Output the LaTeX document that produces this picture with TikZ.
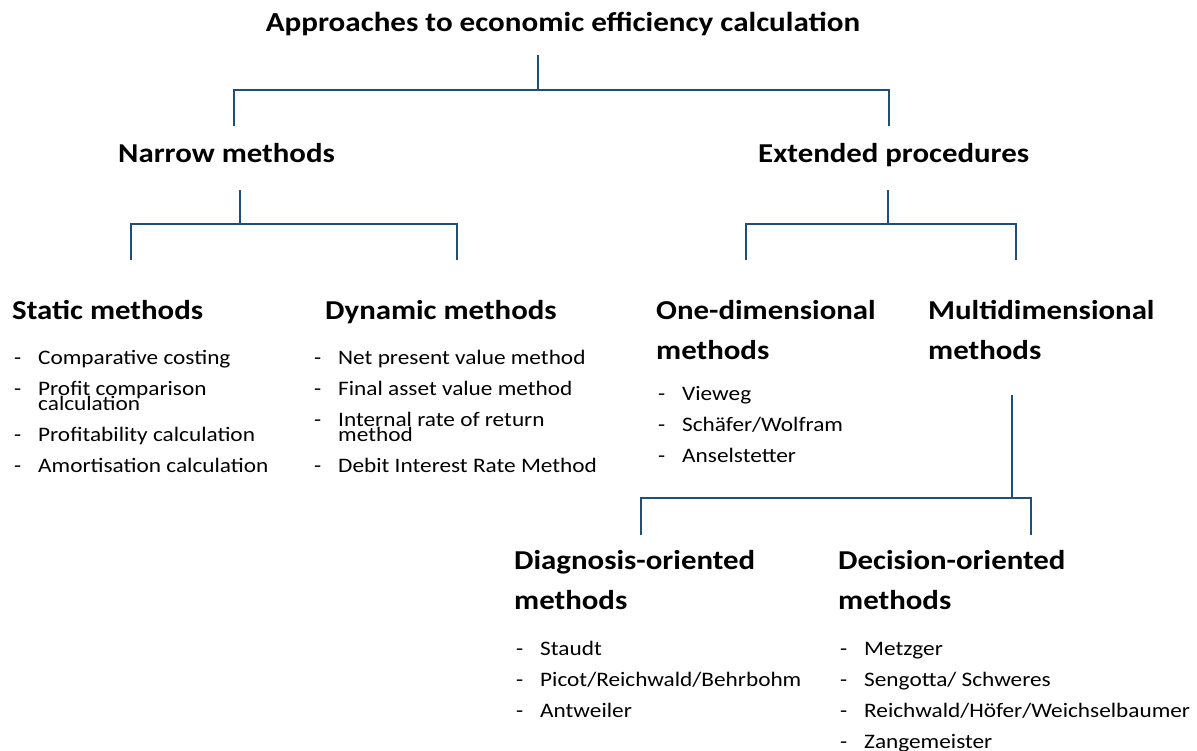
\documentclass[tikz,border=0pt]{standalone}
\usepackage{fontspec}
\setmainfont{Carlito}[FakeStretch=1.13]
\definecolor{linkblue}{RGB}{31,78,121}
\newcommand\bulletline[4]{%
  \node[item] (#1d) at (#2,#3) {-};
  \node[item] (#1) at (#2+24,#3) {#4};}
\begin{document}
\begin{tikzpicture}[x=1pt,y=-1pt,
  title/.style={font=\fontsize{27.5}{32}\selectfont\bfseries, inner sep=0, anchor=base},
  head/.style={font=\fontsize{27.3}{32}\selectfont\bfseries, inner sep=0, anchor=base west},
  item/.style={font=\fontsize{20.6}{24}\selectfont, inner sep=0, anchor=base west},
  link/.style={draw=linkblue, line width=1.8pt}]
\fill[white] (0,0) rectangle (1197,750);
\useasboundingbox (0,0) rectangle (1197,750);

% headings
\node[title] (root) at (563,31) {Approaches to economic efficiency calculation};
\node[head] (narrow) at (118,162) {Narrow methods};
\node[head] (ext) at (758,162) {Extended procedures};
\node[head] (static) at (12,319) {Static methods};
\node[head] (dyn) at (325,319) {Dynamic methods};
\node[head] (one) at (656,319) {One-dimensional};
\node[head] (oneb) at (656,359) {methods};
\node[head] (multi) at (928,319) {Multidimensional};
\node[head] (multib) at (928,359) {methods};
\node[head] (diag) at (514,569) {Diagnosis-oriented};
\node[head] (diagb) at (514,609) {methods};
\node[head] (dec) at (838,569) {Decision-oriented};
\node[head] (decb) at (838,609) {methods};

% static methods
\bulletline{s1}{14}{364}{Comparative costing}
\bulletline{s2}{14}{395}{Profit comparison}
\node[item] (s2b) at (38,410) {calculation};
\bulletline{s3}{14}{441}{Profitability calculation}
\bulletline{s4}{14}{472}{Amortisation calculation}

% dynamic methods
\bulletline{d1}{314}{364}{Net present value method}
\bulletline{d2}{314}{395}{Final asset value method}
\bulletline{d3}{314}{426}{Internal rate of return}
\node[item] (d3b) at (338,441) {method};
\bulletline{d4}{314}{472}{Debit Interest Rate Method}

% one-dimensional methods
\bulletline{o1}{658}{400}{Vieweg}
\bulletline{o2}{658}{431}{Schäfer/Wolfram}
\bulletline{o3}{658}{462}{Anselstetter}

% diagnosis-oriented methods
\bulletline{g1}{516}{655}{Staudt}
\bulletline{g2}{516}{686}{Picot/Reichwald/Behrbohm}
\bulletline{g3}{516}{717}{Antweiler}

% decision-oriented methods
\bulletline{e1}{840}{655}{Metzger}
\bulletline{e2}{840}{686}{Sengotta/ Schweres}
\bulletline{e3}{840}{717}{Reichwald/Höfer/Weichselbaumer}
\bulletline{e4}{840}{748}{Zangemeister}

% connector anchor points
\coordinate (r0) at (538,55);  \coordinate (r1) at (538,90);
\coordinate (rl) at (234,90);  \coordinate (rr) at (889,90);
\coordinate (rlb) at (234,126); \coordinate (rrb) at (889,126);

\coordinate (n0) at (240,190); \coordinate (n1) at (240,224);
\coordinate (nl) at (131,224); \coordinate (nr) at (457,224);
\coordinate (nlb) at (131,260); \coordinate (nrb) at (457,260);

\coordinate (x0) at (888,190); \coordinate (x1) at (888,224);
\coordinate (xl) at (746,224); \coordinate (xr) at (1016,224);
\coordinate (xlb) at (746,260); \coordinate (xrb) at (1016,260);

\coordinate (m0) at (1012,395); \coordinate (m1) at (1012,498);
\coordinate (ml) at (641,498);  \coordinate (mr) at (1031,498);
\coordinate (mlb) at (641,535); \coordinate (mrb) at (1031,535);

% bracket connectors
\draw[link] (r0) -- (r1);
\draw[link] (rlb) -- (rl) -- (rr) -- (rrb);
\draw[link] (n0) -- (n1);
\draw[link] (nlb) -- (nl) -- (nr) -- (nrb);
\draw[link] (x0) -- (x1);
\draw[link] (xlb) -- (xl) -- (xr) -- (xrb);
\draw[link] (m0) -- (m1);
\draw[link] (mlb) -- (ml) -- (mr) -- (mrb);
\end{tikzpicture}
\end{document}
